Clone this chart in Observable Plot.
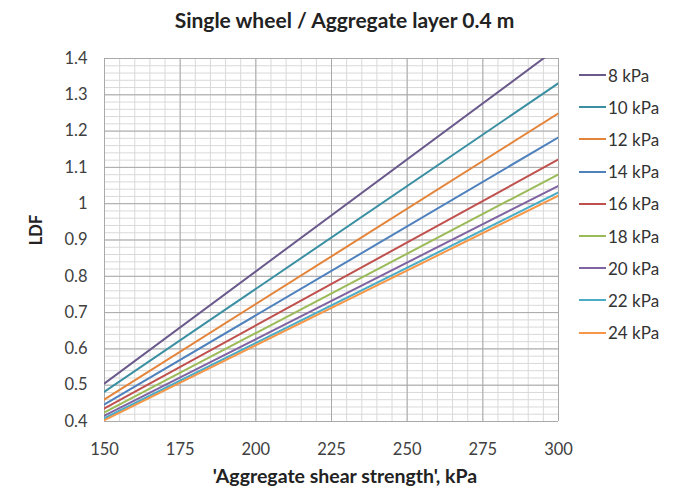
<!DOCTYPE html>
<html>
<head>
<meta charset="utf-8">
<script src="https://cdn.jsdelivr.net/npm/d3@7"></script>
<script src="https://cdn.jsdelivr.net/npm/@observablehq/plot@0.6"></script>
<style>
  html, body { margin: 0; padding: 0; background: #fff; }
  #wrap { position: relative; width: 687px; height: 493px; font-family: Lato, "Open Sans", sans-serif; color: #404040; }
  #title { position: absolute; left: 0; width: 689px; top: 7px; text-align: center; font-size: 21px; font-weight: bold; color: #222; line-height: 26px; }
  #xtitle { position: absolute; left: 0; width: 690px; top: 464px; text-align: center; font-size: 19.5px; font-weight: bold; color: #222; line-height: 24px; }
  #ytitle { position: absolute; left: 36px; top: 230px; transform: translate(-50%, -50%) rotate(-90deg); font-size: 16.5px; font-weight: bold; color: #222; }
  #legend { position: absolute; left: 579px; top: 59px; }
  .item { height: 32.2px; display: flex; align-items: center; font-size: 17px; color: #333; }
  .swatch { width: 27px; height: 2px; margin-right: 2px; }
  svg { position: absolute; left: 0; top: 0; }
</style>
</head>
<body>
<div id="wrap">
  <div id="title">Single wheel / Aggregate layer 0.4 m</div>
  <div id="ytitle">LDF</div>
  <div id="xtitle">'Aggregate shear strength', kPa</div>
  <div id="legend"></div>
</div>
<script>
// Series (contact pressure)
const series = ["8 kPa", "10 kPa", "12 kPa", "14 kPa", "16 kPa", "18 kPa", "20 kPa", "22 kPa", "24 kPa"];
const colors = ["#6a5a8c", "#3b8fa2", "#e4843a", "#4f81bd", "#c0504d", "#9bbb59", "#8064a2", "#4bacc6", "#f79646"];
// Aggregate shear strength (kPa) at line ends
const strength = [150, 300];
// LDF read at 150 kPa and 300 kPa
const ldfAt150 = [0.505, 0.482, 0.461, 0.447, 0.436, 0.425, 0.416, 0.409, 0.404];
const ldfAt300 = [1.431, 1.332, 1.249, 1.183, 1.122, 1.081, 1.049, 1.031, 1.022];
// Axis ticks
const xTicks = [150, 175, 200, 225, 250, 275, 300];
const yTicks = [0.4, 0.5, 0.6, 0.7, 0.8, 0.9, 1, 1.1, 1.2, 1.3, 1.4];

const data = [];
series.forEach((s, i) => {
  data.push({series: s, x: strength[0], y: ldfAt150[i]});
  data.push({series: s, x: strength[1], y: ldfAt300[i]});
});

const xMinor = d3.range(150, 300.001, 5);
const yMinor = d3.range(0, 51).map(k => 0.4 + k * 0.02);

const chart = Plot.plot({
  width: 687,
  height: 493,
  marginTop: 58,
  marginBottom: 72,
  marginLeft: 104,
  marginRight: 129,
  style: {fontFamily: "Lato, 'Open Sans', sans-serif", fontSize: "16px", color: "#404040", background: "transparent"},
  x: {domain: [150, 300]},
  y: {domain: [0.4, 1.4]},
  color: {domain: series, range: colors},
  marks: [
    Plot.ruleX(xMinor, {stroke: "#d9d9d9", strokeWidth: 1}),
    Plot.ruleY(yMinor, {stroke: "#d9d9d9", strokeWidth: 1}),
    Plot.ruleX(xTicks, {stroke: "#a9a9a9", strokeWidth: 1}),
    Plot.ruleY(yTicks, {stroke: "#a9a9a9", strokeWidth: 1}),
    Plot.line(data, {x: "x", y: "y", z: "series", stroke: "series", strokeWidth: 2, clip: true}),
    Plot.axisX(xTicks, {tickSize: 0, tickPadding: 22, label: null, fontSize: 16.5, fill: "#404040"}),
    Plot.axisY(yTicks, {tickSize: 0, tickPadding: 17, label: null, fontSize: 16.5, fill: "#404040", tickFormat: d => String(+d.toFixed(1))})
  ]
});
document.getElementById("wrap").prepend(chart);

const legend = document.getElementById("legend");
series.forEach((s, i) => {
  const row = document.createElement("div");
  row.className = "item";
  const sw = document.createElement("span");
  sw.className = "swatch";
  sw.style.background = colors[i];
  const t = document.createElement("span");
  t.textContent = s;
  row.appendChild(sw);
  row.appendChild(t);
  legend.appendChild(row);
});
</script>
</body>
</html>
